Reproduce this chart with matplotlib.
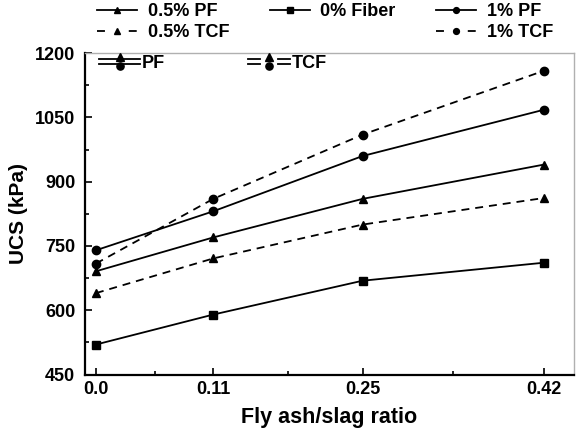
import numpy as np
import matplotlib
matplotlib.use("Agg")
import matplotlib.pyplot as plt
import matplotlib.ticker as mticker
from matplotlib.lines import Line2D
from matplotlib.legend_handler import HandlerBase, HandlerLine2D

# ── Data ──────────────────────────────────────────────────────────────────────
ratio = [0.0, 0.11, 0.25, 0.42]
tick_labels = ["0.0", "0.11", "0.25", "0.42"]

fiber_0 = [520, 590, 669, 711]
pf_05 = [691, 770, 860, 940]
pf_1 = [740, 831, 960, 1068]
tcf_05 = [640, 721, 800, 862]
tcf_1 = [709, 860, 1010, 1159]

plt.rcParams["font.family"] = ["Liberation Sans", "DejaVu Sans"]
plt.rcParams["font.weight"] = "bold"

fig = plt.figure(figsize=(5.78, 4.32), dpi=100)
ax = fig.add_axes([0.147, 0.133, 0.846, 0.744])

line_kw = dict(color="black", linewidth=1.3)
dash = (0, (4.4, 3.3))

h_pf05, = ax.plot(ratio, pf_05, marker="^", markersize=6, label="0.5% PF", **line_kw)
h_f0, = ax.plot(ratio, fiber_0, marker="s", markersize=5.5, label="0% Fiber", **line_kw)
h_pf1, = ax.plot(ratio, pf_1, marker="o", markersize=6, label="1% PF", **line_kw)
h_tcf05, = ax.plot(ratio, tcf_05, marker="^", markersize=6, linestyle=dash,
                   label="0.5% TCF", **line_kw)
h_tcf1, = ax.plot(ratio, tcf_1, marker="o", markersize=6, linestyle=dash,
                  label="1% TCF", **line_kw)

# Axes limits / ticks
ax.set_xlim(-0.0103, 0.448)
ax.set_ylim(450, 1200)
ax.set_xticks(ratio)
ax.set_xticklabels(tick_labels)
ax.xaxis.set_minor_locator(mticker.FixedLocator(
    [(a + b) / 2 for a, b in zip(ratio[:-1], ratio[1:])]))
ax.yaxis.set_major_locator(mticker.MultipleLocator(150))
ax.yaxis.set_minor_locator(mticker.MultipleLocator(75))
ax.tick_params(which="both", direction="in", top=False, right=False,
               labelsize=13, width=1.2)
ax.tick_params(which="major", length=5)
ax.tick_params(which="minor", length=3)
ax.tick_params(axis="y", pad=7)
ax.tick_params(axis="x", pad=5)
for lab in ax.get_xticklabels() + ax.get_yticklabels():
    lab.set_fontweight("bold")

ax.set_xlabel("Fly ash/slag ratio", fontsize=15.5, fontweight="bold", labelpad=6)
ax.set_ylabel("UCS (kPa)", fontsize=15, fontweight="bold", labelpad=5)

for side in ("left", "bottom"):
    ax.spines[side].set_linewidth(1.6)
    ax.spines[side].set_color("black")
for side in ("top", "right"):
    ax.spines[side].set_linewidth(1.0)
    ax.spines[side].set_color("#b0b0b0")


# ── Top legend (above axes) ───────────────────────────────────────────────────
def short_dash(leg_line, orig):
    # symmetric "- marker -" key for the dashed series
    leg_line.update_from(orig)
    leg_line.set_linestyle((0, (4.4, 13.2)))


dash_handler = HandlerLine2D(update_func=short_dash)
blank = Line2D([], [], color="none", label="")
handles = [h_pf05, h_tcf05, h_f0, blank, h_pf1, h_tcf1]
labels = ["0.5% PF", "0.5% TCF", "0% Fiber", "", "1% PF", "1% TCF"]
leg1 = fig.legend(handles, labels, ncol=3, loc="upper left",
                  bbox_to_anchor=(0.140, 1.03), frameon=False,
                  prop=dict(size=13, weight="bold"), handlelength=2.2,
                  handletextpad=0.6, columnspacing=2.25, labelspacing=0.2,
                  markerscale=0.7,
                  handler_map={h_tcf05: dash_handler, h_tcf1: dash_handler})


# ── In-plot key: stacked triangle/circle for PF and TCF ───────────────────────
class StackHandler(HandlerBase):
    def __init__(self, split):
        super().__init__()
        self.split = split

    def create_artists(self, legend, orig_handle, xdescent, ydescent,
                       width, height, fontsize, trans):
        arts = []
        x0, x1 = -xdescent, width - xdescent
        xm = (x0 + x1) / 2
        yc = height / 2 - ydescent
        if self.split:
            segs = [(x0, x0 + 0.28 * width), (x1 - 0.28 * width, x1)]
        else:
            segs = [(x0, x1)]
        for dy in (2.0, -2.0):
            for a, b in segs:
                ln = Line2D([a, b], [yc + dy, yc + dy], color="black", linewidth=1.3)
                ln.set_transform(trans)
                arts.append(ln)
        for dy, mk in ((3.2, "^"), (-3.4, "o")):
            mkr = Line2D([xm], [yc + dy], marker=mk, markersize=5.2, color="black",
                         linestyle="none")
            mkr.set_transform(trans)
            arts.append(mkr)
        return arts


pf_key = Line2D([], [], color="black")
tcf_key = Line2D([], [], color="black", linestyle="--")
leg2 = ax.legend([pf_key, tcf_key], ["PF", "TCF"], ncol=2, loc="upper left",
                 bbox_to_anchor=(-0.005, 1.046), frameon=False,
                 prop=dict(size=13, weight="bold"),
                 handlelength=2.3, handletextpad=0.1, columnspacing=4.6,
                 handler_map={pf_key: StackHandler(False),
                              tcf_key: StackHandler(True)})

fig.savefig("out.png", dpi=100)
